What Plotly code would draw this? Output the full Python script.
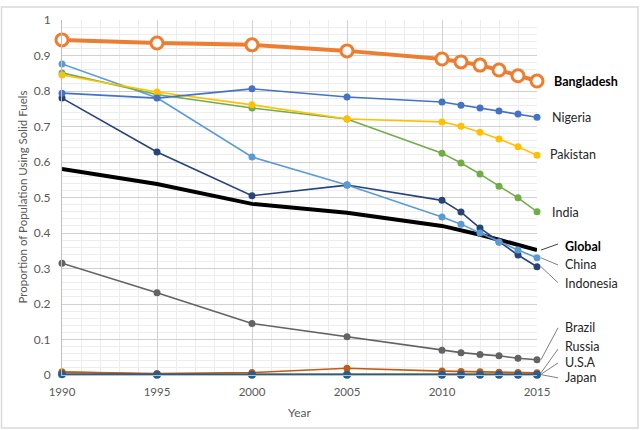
import plotly.graph_objects as go

years = [1990, 1995, 2000, 2005, 2010, 2011, 2012, 2013, 2014, 2015]

bangladesh = [0.944, 0.935, 0.930, 0.913, 0.890, 0.882, 0.873, 0.859, 0.843, 0.828]
nigeria    = [0.794, 0.780, 0.806, 0.783, 0.769, 0.760, 0.752, 0.744, 0.735, 0.726]
pakistan   = [0.845, 0.797, 0.761, 0.721, 0.713, 0.701, 0.684, 0.665, 0.643, 0.619]
india      = [0.851, 0.790, 0.752, 0.721, 0.625, 0.597, 0.566, 0.532, 0.499, 0.460]
china      = [0.876, 0.781, 0.614, 0.535, 0.445, 0.425, 0.400, 0.375, 0.352, 0.330]
indonesia  = [0.780, 0.628, 0.505, 0.535, 0.492, 0.459, 0.414, 0.375, 0.338, 0.305]
global_    = [0.580, 0.538, 0.482, 0.457, 0.420, 0.408, 0.395, 0.381, 0.366, 0.352]
brazil     = [0.315, 0.232, 0.145, 0.108, 0.070, 0.063, 0.058, 0.054, 0.047, 0.043]
russia     = [0.008, 0.004, 0.007, 0.019, 0.011, 0.010, 0.009, 0.008, 0.007, 0.006]
usa        = [0.009, 0.002, 0.002, 0.002, 0.002, 0.002, 0.002, 0.002, 0.002, 0.002]
japan      = [0.002, 0.001, 0.001, 0.001, 0.001, 0.001, 0.001, 0.001, 0.001, 0.001]

x_ticks = [1990, 1995, 2000, 2005, 2010, 2015]
y_ticks = [0, 0.1, 0.2, 0.3, 0.4, 0.5, 0.6, 0.7, 0.8, 0.9, 1]

FONT = "Lato"
fig = go.Figure()

def add_series(name, vals, color, width=1.6, msize=7, hollow=False, markers=True):
    if hollow:
        marker = dict(size=msize, color="white", symbol="circle",
                      line=dict(color=color, width=3))
    else:
        marker = dict(size=msize, color=color, line=dict(width=0))
    fig.add_trace(go.Scatter(
        x=years, y=vals, name=name,
        mode="lines+markers" if markers else "lines",
        line=dict(color=color, width=width),
        marker=marker, cliponaxis=False, showlegend=False))

add_series("U.S.A", usa, "#BF9000")
add_series("Russia", russia, "#C55A11")
add_series("Japan", japan, "#255E91", width=2.2, msize=8)
add_series("Brazil", brazil, "#636363")
add_series("Global", global_, "#000000", width=4, markers=False)
add_series("Indonesia", indonesia, "#264478")
add_series("China", china, "#5B9BD5")
add_series("India", india, "#70AD47")
add_series("Pakistan", pakistan, "#FFC000")
add_series("Nigeria", nigeria, "#4472C4")
add_series("Bangladesh", bangladesh, "#ED7D31", width=4, msize=12, hollow=True)

# plot area geometry (px) for converting label positions
L, R = 62, 537
def px2paper_x(px):
    return (px - L) / (R - L)

labels = [
    # text, bold, label x px, label y (paper), leader (y_start, y_end) or None
    ("Bangladesh", True, 552, 0.828, None),
    ("Nigeria", False, 550, 0.724, None),
    ("Pakistan", False, 548, 0.620, None),
    ("India", False, 550, 0.459, None),
    ("Global", True, 563, 0.363, (global_[-1], 0.369)),
    ("China", False, 563, 0.310, (china[-1], 0.310)),
    ("Indonesia", False, 563, 0.259, (indonesia[-1], 0.260)),
    ("Brazil", False, 563, 0.135, (brazil[-1], 0.133)),
    ("Russia", False, 563, 0.079, (russia[-1], 0.073)),
    ("U.S.A", False, 563, 0.034, (usa[-1], 0.034)),
    ("Japan", False, 563, -0.006, (japan[-1], -0.008)),
]

annotations = []
shapes = []
for text, bold, lx, ly, leader in labels:
    annotations.append(dict(
        text=f"<b>{text}</b>" if bold else text,
        xref="paper", yref="paper", x=px2paper_x(lx), y=ly,
        xanchor="left", yanchor="middle", showarrow=False,
        font=dict(family=FONT, size=12.5, color="#000000" if bold else "#262626")))
    if leader:
        shapes.append(dict(type="line", xref="paper", yref="paper",
                           x0=px2paper_x(541), y0=leader[0],
                           x1=px2paper_x(558), y1=leader[1],
                           line=dict(color="#404040" if bold else "#808080", width=1)))

annotations.append(dict(
    text="Proportion of Population Using Solid Fuels", textangle=-90,
    xref="paper", yref="paper", x=px2paper_x(22), y=0.5,
    xanchor="center", yanchor="middle", showarrow=False,
    font=dict(family=FONT, size=11.5, color="#595959")))
annotations.append(dict(
    text="Year", xref="paper", yref="paper", x=0.5, y=-(412 - 375) / 355,
    xanchor="center", yanchor="middle", showarrow=False,
    font=dict(family=FONT, size=12, color="#595959")))

# outer chart border
shapes.append(dict(type="rect", xref="paper", yref="paper",
                   x0=px2paper_x(1.5), x1=px2paper_x(638),
                   y0=-(428 - 375) / 355, y1=(375 - 7) / 355,
                   line=dict(color="#D9D9D9", width=1.5), layer="below"))

fig.update_layout(
    width=641, height=430,
    margin=dict(l=L, r=641 - R, t=20, b=55),
    paper_bgcolor="white", plot_bgcolor="white",
    font=dict(family=FONT, size=11, color="#595959"),
    annotations=annotations, shapes=shapes,
)
fig.update_xaxes(
    range=[1990, 2015], tickvals=x_ticks, ticktext=[str(v) for v in x_ticks],
    showgrid=True, gridcolor="#D0D0D0", gridwidth=1,
    minor=dict(dtick=1, showgrid=True, gridcolor="#EDEDED", gridwidth=1),
    zeroline=False, showline=True, linecolor="#BFBFBF", linewidth=1,
    ticks="outside", ticklen=6, tickcolor="rgba(0,0,0,0)",
    tickfont=dict(family=FONT, size=11.5, color="#595959"),
)
fig.update_yaxes(
    range=[0, 1], tickvals=y_ticks, ticktext=[f"{v:g}" for v in y_ticks],
    showgrid=True, gridcolor="#D0D0D0", gridwidth=1,
    minor=dict(dtick=0.02, showgrid=True, gridcolor="#EDEDED", gridwidth=1),
    zeroline=False, showline=True, linecolor="#BFBFBF", linewidth=1,
    ticks="outside", ticklen=8, tickcolor="rgba(0,0,0,0)",
    tickfont=dict(family=FONT, size=12, color="#595959"),
)

fig.write_html("out.html")
